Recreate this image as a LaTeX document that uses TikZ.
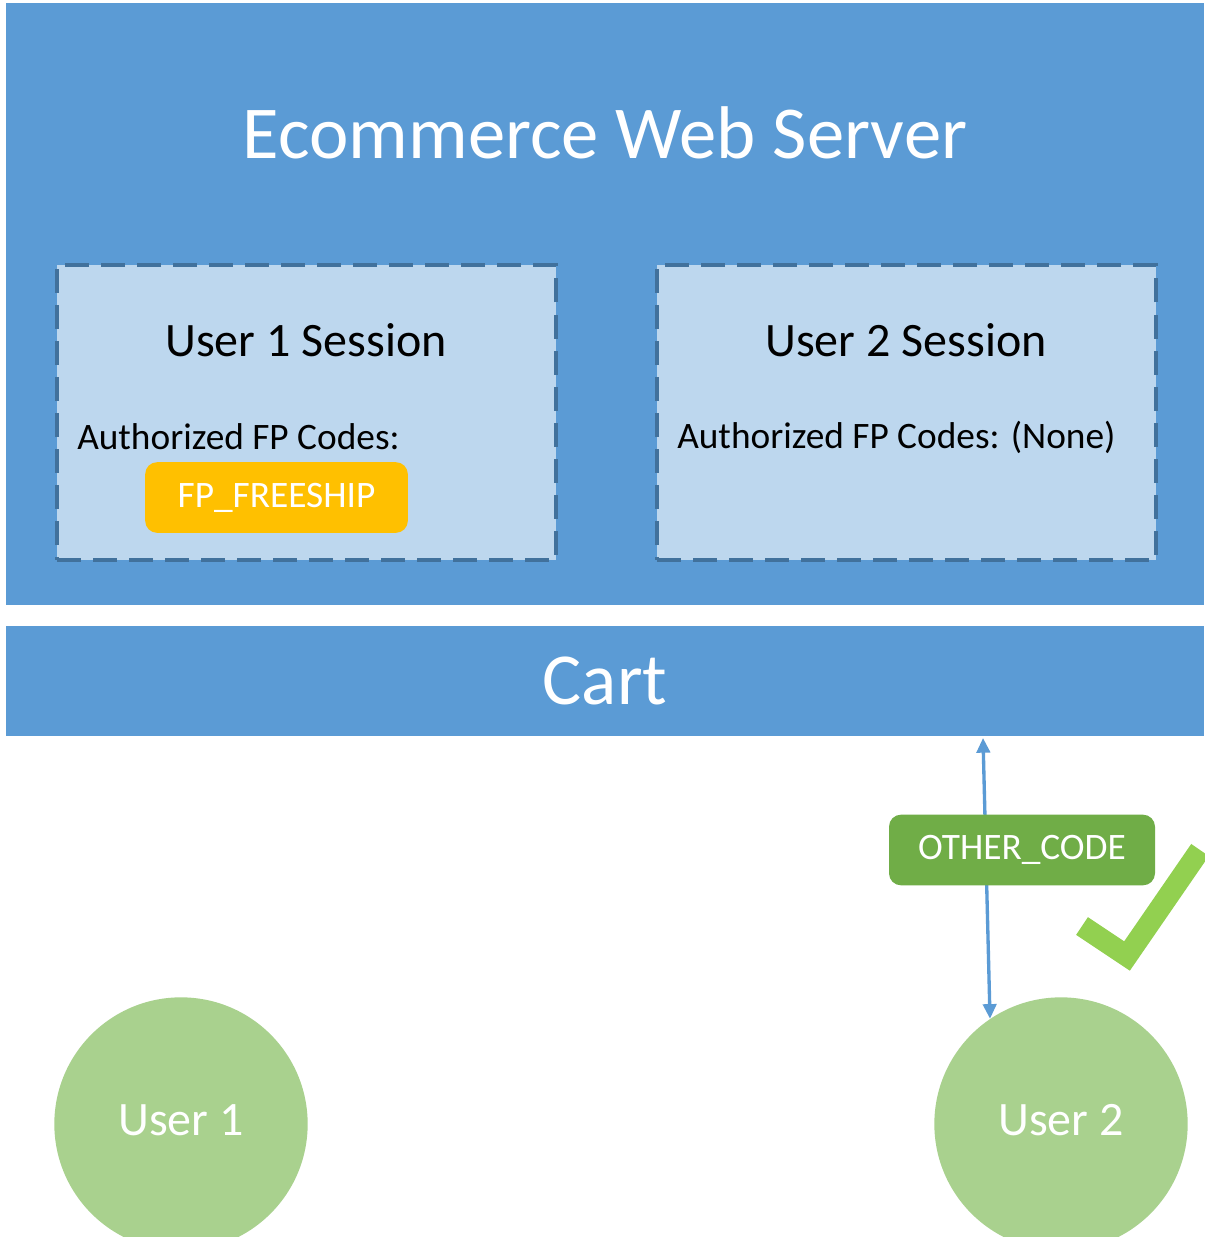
\documentclass[tikz,border=0pt]{standalone}
\usepackage{fontspec}
\setmainfont{Carlito}
\usetikzlibrary{arrows.meta}
\definecolor{serverblue}{HTML}{5B9BD5}
\definecolor{sessfill}{HTML}{BDD7EE}
\definecolor{sessedge}{HTML}{41719C}
\definecolor{freeship}{HTML}{FFC000}
\definecolor{othergreen}{HTML}{70AD47}
\definecolor{userfill}{HTML}{A9D18E}
\definecolor{tickgreen}{HTML}{92D050}
\tikzset{
  bluebar/.style={fill=serverblue, draw=none, inner sep=0pt},
  sessbox/.style={fill=sessfill, draw=sessedge, line width=3pt,
    dash pattern=on 18pt off 9pt, inner sep=0pt,
    minimum width=374pt, minimum height=221pt},
  codetag/.style={draw=none, rounded corners=9pt, text=white,
    font=\fontsize{28}{33}\selectfont, minimum height=53pt},
  userdot/.style={circle, fill=userfill, draw=none, text=white,
    minimum size=190pt, font=\fontsize{36}{43}\selectfont},
}
\begin{document}
\begin{tikzpicture}[x=0.75pt, y=-0.75pt, >={Triangle[length=11pt, width=10pt]}]
    % one unit = one pixel of the target, y runs downwards
    \useasboundingbox[fill=white] (0,0) rectangle (1204,1237);

    % --- SERVER AND CART BARS ---
    \node[bluebar, anchor=north west, minimum width=898.5pt, minimum height=451.5pt] (server) at (6,3) {};
    \node[text=white, font=\fontsize{56}{67}\selectfont] (servertitle) at (605,133) {Ecommerce Web Server};
    \node[bluebar, minimum width=898.5pt, minimum height=82.5pt, text=white,
          font=\fontsize{55}{66}\selectfont] (cart) at (605,681) {Cart};

    % --- SESSIONS ---
    \node[sessbox] (sess1) at (306.5,412.5) {};
    \node[sessbox] (sess2) at (906.5,412.5) {};
    \node[font=\fontsize{36}{43}\selectfont] (sess1title) at (306,340) {User 1 Session};
    \node[font=\fontsize{36}{43}\selectfont] (sess2title) at (906,340) {User 2 Session};
    \node[anchor=west, inner sep=0pt, font=\fontsize{28}{33}\selectfont] (codes1) at (77,437) {Authorized FP Codes:};
    \node[anchor=west, inner sep=0pt, font=\fontsize{28}{33}\selectfont] (codes2) at (677,437) {Authorized FP Codes: (None)};
    \node[codetag, fill=freeship, minimum width=197pt] (fpcode) at (276.5,497.5) {FP\_FREESHIP};

    % --- USERS ---
    \node[userdot] (user1) at (181,1124) {};
    \node[userdot] (user2) at (1061,1124) {};
    \node[text=white, font=\fontsize{36}{43}\selectfont] (user1name) at (181,1120) {User 1};
    \node[text=white, font=\fontsize{36}{43}\selectfont] (user2name) at (1061,1120) {User 2};

    % --- REQUEST FROM USER 2 ---
    \coordinate (cartport) at (983,738);
    \draw[<->, serverblue, line width=2.5pt] (cartport) -- (user2.124);
    \node[codetag, fill=othergreen, minimum width=199.5pt] (othercode) at (1022,850) {OTHER\_CODE};
    \draw[tickgreen, line width=16pt] (1082,926) -- (1127,956) -- (1200,850);
\end{tikzpicture}
\end{document}
